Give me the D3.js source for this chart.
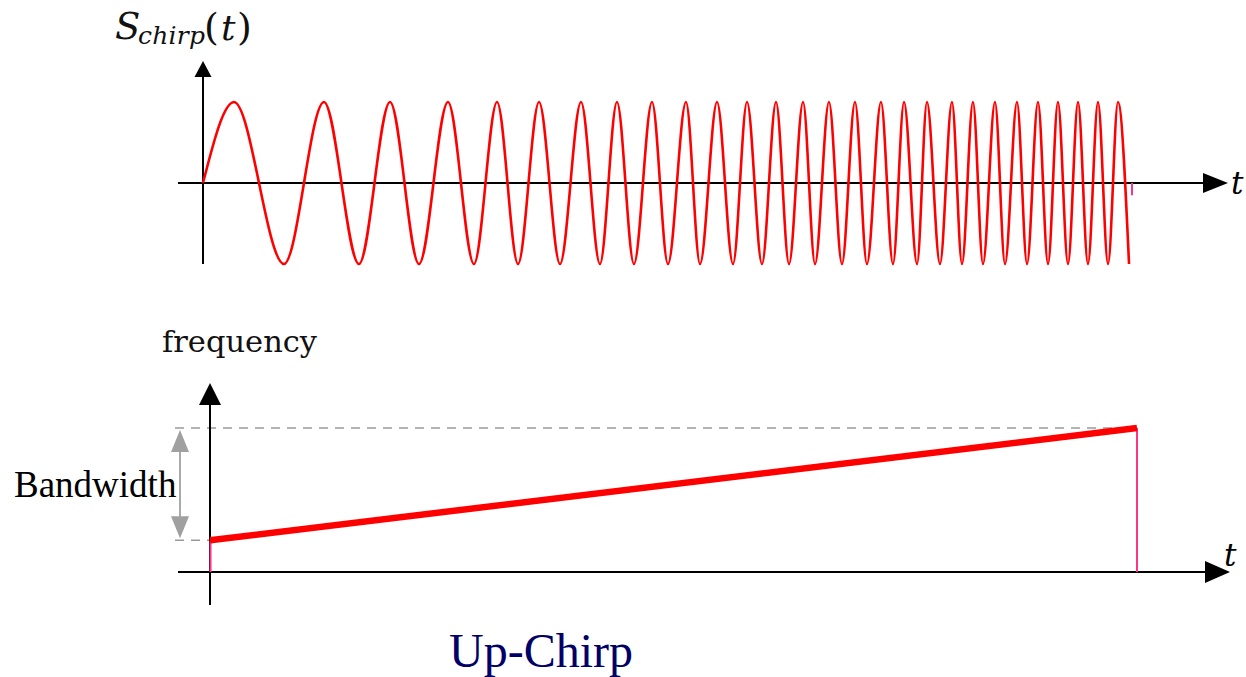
<!DOCTYPE html>
<html><head><meta charset="utf-8">
<script src="https://cdn.jsdelivr.net/npm/d3@7"></script>
<style>body{margin:0;background:#fff}svg{display:block}</style>
</head><body>
<svg id="c" width="1246" height="677"></svg>
<script>
// ---- data ----
// time of each extremum of the chirp signal (0 = start, 10 = end)
const chirpTimes = [0, 0.334, 0.872, 1.302, 1.679, 2.013, 2.325, 2.637, 2.917, 3.165, 3.391,
  3.617, 3.843, 4.069, 4.273, 4.456, 4.639, 4.833, 5.005, 5.199, 5.350,
  5.533, 5.705, 5.856, 6.017, 6.168, 6.308, 6.459, 6.588, 6.738, 6.878,
  7.018, 7.147, 7.298, 7.427, 7.546, 7.686, 7.793, 7.933, 8.062, 8.170,
  8.288, 8.396, 8.525, 8.633, 8.762, 8.870, 8.988, 9.096, 9.203, 9.311,
  9.419, 9.526, 9.634, 9.742, 9.849, 9.968];
const chirpValues = [0, 1, -1, 1, -1, 1, -1, 1, -1, 1, -1,
  1, -1, 1, -1, 1, -1, 1, -1, 1, -1,
  1, -1, 1, -1, 1, -1, 1, -1, 1, -1,
  1, -1, 1, -1, 1, -1, 1, -1, 1, -1,
  1, -1, 1, -1, 1, -1, 1, -1, 1, -1,
  1, -1, 1, -1, 1, -1];
const chirpEndTime = 10;
const freqTimes = [0, 10];
const freqValues = [0.22, 1.0];
const textFrequency = "frequency";
const textBandwidth = "Bandwidth";
const textTitle = "Up-Chirp";
const textT = "t";

// ---- layout ----
const svg = d3.select("#c");
const RED = "#ff0000", PINK = "#ff3388", GREY = "#9a9a9a";

// top panel scales
const xTop = d3.scaleLinear().domain([0, 10]).range([203, 1132]);
const yTop = d3.scaleLinear().domain([-1, 1]).range([264, 102]);
// bottom panel scales
const xBot = d3.scaleLinear().domain([0, 10]).range([210, 1137]);
const yBot = d3.scaleLinear().domain([0, 1]).range([572, 428]);

function arrowHead(g, tipX, tipY, dir, len, half, color) {
  let pts;
  if (dir === "right") pts = [[tipX, tipY], [tipX - len, tipY - half], [tipX - len, tipY + half]];
  else if (dir === "up") pts = [[tipX, tipY], [tipX - half, tipY + len], [tipX + half, tipY + len]];
  else pts = [[tipX, tipY], [tipX - half, tipY - len], [tipX + half, tipY - len]];
  g.append("path").attr("d", "M" + pts.map(p => p.join(",")).join("L") + "Z").attr("fill", color);
}

// ---- top panel ----
const gTop = svg.append("g");
// axes
gTop.append("line").attr("x1", 178).attr("x2", 1210).attr("y1", yTop(0)).attr("y2", yTop(0))
  .attr("stroke", "#000").attr("stroke-width", 2);
arrowHead(gTop, 1228, yTop(0), "right", 25, 10, "#000");
gTop.append("line").attr("x1", xTop(0)).attr("x2", xTop(0)).attr("y1", 264).attr("y2", 72)
  .attr("stroke", "#000").attr("stroke-width", 2);
arrowHead(gTop, xTop(0), 61, "up", 16, 8.5, "#000");
// chirp wave
const line = d3.line().x((d, i) => xTop(chirpTimes[i])).y(d => yTop(d)).curve(d3.curveMonotoneX);
gTop.append("path").datum(chirpValues).attr("d", line)
  .attr("fill", "none").attr("stroke", RED).attr("stroke-width", 2.6).attr("stroke-linejoin", "round");
// end marker
gTop.append("line").attr("x1", xTop(chirpEndTime)).attr("x2", xTop(chirpEndTime))
  .attr("y1", yTop(0)).attr("y2", yTop(-0.15)).attr("stroke", PINK).attr("stroke-width", 2);
gTop.append("text").attr("x", 1231).attr("y", 194).text(textT)
  .attr("font-family", "DejaVu Serif").attr("font-style", "italic").attr("font-size", 31).attr("fill", "#000");
// S_chirp(t)
const lab = gTop.append("text").attr("font-family", "DejaVu Serif").attr("fill", "#111");
lab.append("tspan").attr("x", 115).attr("y", 39).attr("font-style", "italic").attr("font-size", 37).text("S");
lab.append("tspan").attr("x", 138).attr("y", 44).attr("font-style", "italic").attr("font-size", 25)
  .attr("textLength", 67).attr("lengthAdjust", "spacing").text("chirp");
lab.append("tspan").attr("x", 204).attr("y", 40).attr("font-size", 38).text("(");
lab.append("tspan").attr("x", 221).attr("y", 40).attr("font-style", "italic").attr("font-size", 36).text("t");
lab.append("tspan").attr("x", 237).attr("y", 40).attr("font-size", 38).text(")");

// ---- bottom panel ----
const gBot = svg.append("g");
// dashed guides
gBot.append("line").attr("x1", 175).attr("x2", xBot(freqTimes[1])).attr("y1", yBot(freqValues[1])).attr("y2", yBot(freqValues[1]))
  .attr("stroke", GREY).attr("stroke-width", 1.5).attr("stroke-dasharray", "9,7");
gBot.append("line").attr("x1", 175).attr("x2", xBot(freqTimes[0])).attr("y1", yBot(freqValues[0])).attr("y2", yBot(freqValues[0]))
  .attr("stroke", GREY).attr("stroke-width", 1.5).attr("stroke-dasharray", "9,7");
// bandwidth double arrow
const bx = 180;
gBot.append("line").attr("x1", bx).attr("x2", bx).attr("y1", yBot(freqValues[1]) + 15).attr("y2", yBot(freqValues[0]) - 15)
  .attr("stroke", "#aaa").attr("stroke-width", 2);
arrowHead(gBot, bx, yBot(freqValues[1]) + 2, "up", 22, 9, "#a0a0a0");
arrowHead(gBot, bx, yBot(freqValues[0]) - 2, "down", 22, 9, "#a0a0a0");
// axes
gBot.append("line").attr("x1", 178).attr("x2", 1212).attr("y1", yBot(0)).attr("y2", yBot(0))
  .attr("stroke", "#000").attr("stroke-width", 2);
arrowHead(gBot, 1230, yBot(0), "right", 25, 11, "#000");
gBot.append("line").attr("x1", xBot(0)).attr("x2", xBot(0)).attr("y1", 605).attr("y2", 395)
  .attr("stroke", "#000").attr("stroke-width", 2);
arrowHead(gBot, xBot(0), 383, "up", 22, 11, "#000");
// pink verticals
gBot.append("line").attr("x1", xBot(freqTimes[0]) + 0.5).attr("x2", xBot(freqTimes[0]) + 0.5).attr("y1", yBot(0)).attr("y2", yBot(freqValues[0]))
  .attr("stroke", PINK).attr("stroke-width", 2);
gBot.append("line").attr("x1", xBot(freqTimes[1])).attr("x2", xBot(freqTimes[1])).attr("y1", yBot(0)).attr("y2", yBot(freqValues[1]))
  .attr("stroke", PINK).attr("stroke-width", 2);
// frequency ramp
const fline = d3.line().x((d, i) => xBot(freqTimes[i])).y(d => yBot(d));
gBot.append("path").datum(freqValues).attr("d", fline)
  .attr("fill", "none").attr("stroke", RED).attr("stroke-width", 6.5);
// texts
gBot.append("text").attr("x", 1224).attr("y", 566).text(textT)
  .attr("font-family", "DejaVu Serif").attr("font-style", "italic").attr("font-size", 31).attr("fill", "#000");
gBot.append("text").attr("x", 162).attr("y", 352).text(textFrequency)
  .attr("font-family", "DejaVu Serif").attr("font-size", 30.5).attr("fill", "#111");
gBot.append("text").attr("x", 14).attr("y", 497).text(textBandwidth)
  .attr("font-family", "Liberation Serif").attr("font-size", 37).attr("fill", "#000");
svg.append("text").attr("x", 541).attr("y", 667).attr("text-anchor", "middle").text(textTitle)
  .attr("font-family", "Liberation Serif").attr("font-size", 48).attr("fill", "#000066");
</script>
</body></html>
